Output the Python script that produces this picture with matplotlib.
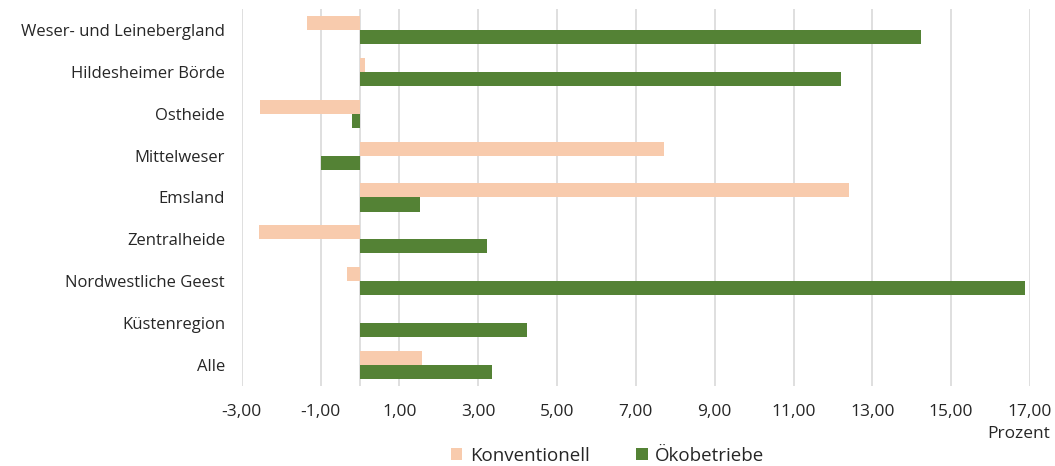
import matplotlib as mpl
import matplotlib.pyplot as plt
import numpy as np

mpl.rcParams.update({'font.family': ['Open Sans', 'DejaVu Sans'],
                     'font.size': 12.5})

regions = ["Weser- und Leinebergland", "Hildesheimer Börde", "Ostheide",
           "Mittelweser", "Emsland", "Zentralheide", "Nordwestliche Geest",
           "Küstenregion", "Alle"]
konventionell = [-1.34, 0.13, -2.53, 7.71, 12.42, -2.57, -0.33, 0.0, 1.57]
oeko = [14.24, 12.20, -0.20, -1.00, 1.53, 3.22, 16.87, 4.24, 3.35]
xticks = np.arange(-3, 18, 2)

c_konv = '#F8CBAD'
c_oeko = '#548235'
text_col = '#262626'
grid_col = '#d9d9d9'

fig = plt.figure(figsize=(10.55, 4.66), dpi=100)
ax = fig.add_axes([0.2291, 0.1717, 0.7472, 0.809])

y = np.arange(len(regions))
h = 0.335
ax.barh(y - h / 2, konventionell, height=h, color=c_konv,
        label="Konventionell", zorder=2)
ax.barh(y + h / 2, oeko, height=h, color=c_oeko,
        label="Ökobetriebe", zorder=2)

ax.set_xlim(-3, 17)
ax.set_ylim(len(regions) - 0.5, -0.5)
ax.set_xticks(xticks)
ax.set_xticklabels([f"{v:.2f}".replace('.', ',') for v in xticks],
                   color=text_col)
ax.set_yticks(y)
ax.set_yticklabels(regions, color=text_col, fontsize=12)
ax.tick_params(axis='both', length=0)
ax.tick_params(axis='x', pad=13)
ax.tick_params(axis='y', pad=12)

ax.grid(axis='x', color=grid_col, linewidth=1.2, zorder=0)
ax.axvline(0, color=grid_col, linewidth=1.2, zorder=1)
for s in ax.spines.values():
    s.set_visible(False)

fig.text(0.995, 0.052, "Prozent", ha='right', va='bottom',
         color=text_col, fontsize=12.5)

leg = fig.legend(loc='center', bbox_to_anchor=(0.576, 0.022), ncol=2,
                 frameon=False, handlelength=0.6, handleheight=0.6,
                 handletextpad=0.4, columnspacing=2.5, fontsize=13.5,
                 borderpad=0)
for t in leg.get_texts():
    t.set_color(text_col)

fig.savefig('out.png', dpi=100)
